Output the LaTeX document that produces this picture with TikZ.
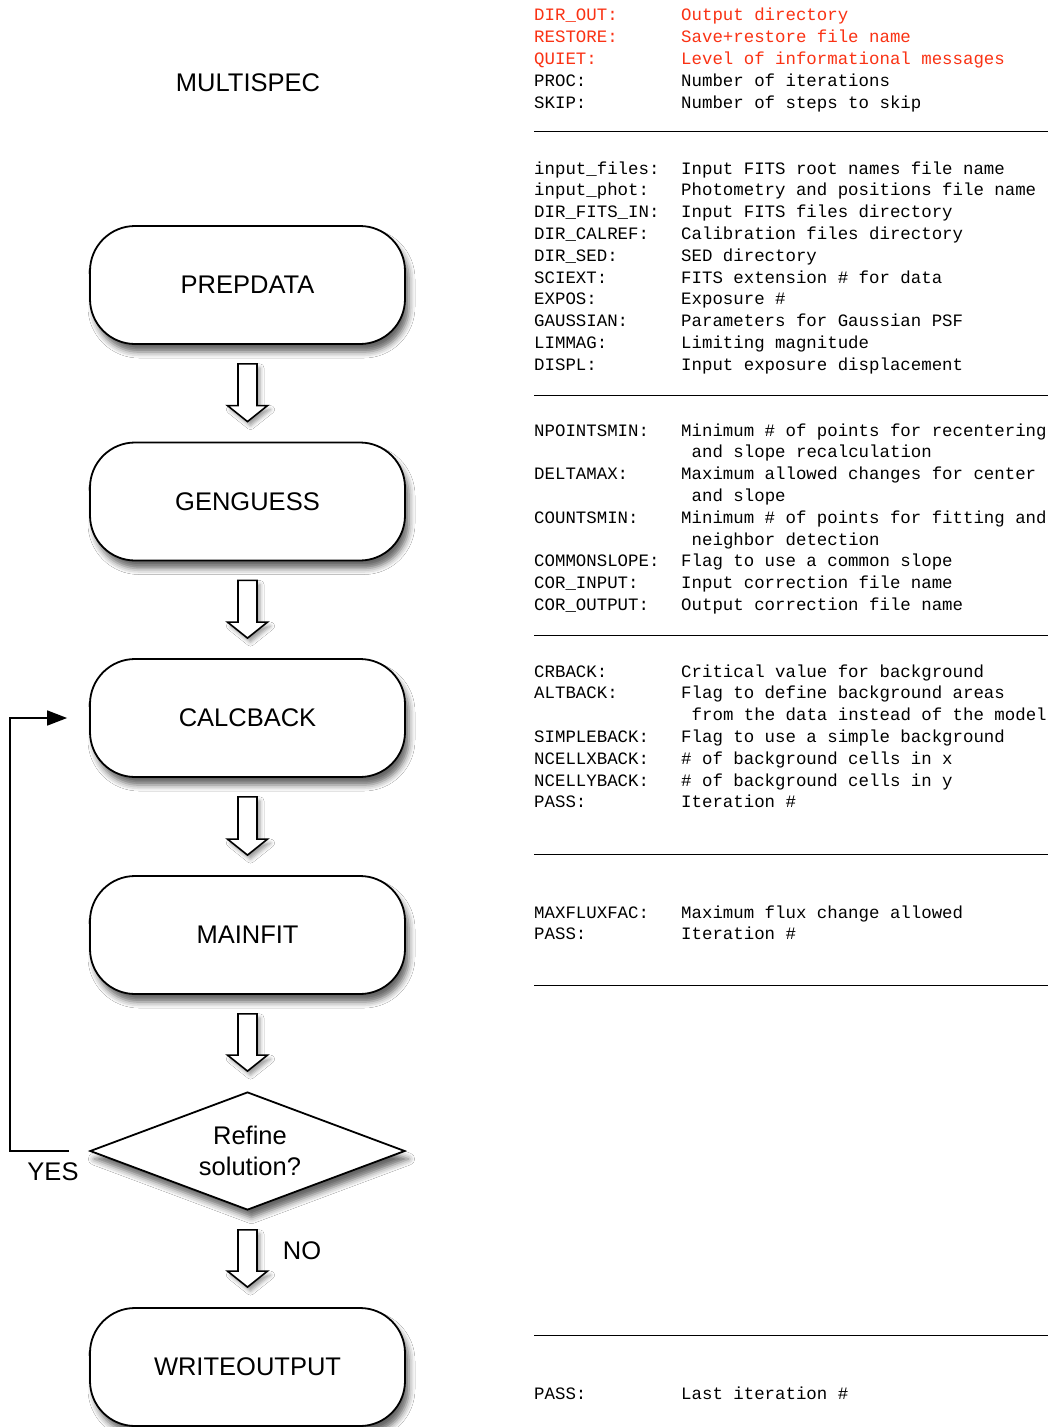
\documentclass[tikz,border=0pt]{standalone}
\usepackage{fontspec}
\setmainfont{Liberation Sans}
\setmonofont{Liberation Mono}
\usetikzlibrary{shapes.geometric,arrows.meta,calc,shadows.blur}
\definecolor{parred}{RGB}{250,50,20}
\newcount\rowcount
\newcommand{\prow}[4]{%
  \node[lab,text=#4] (l\the\rowcount) at (534,#1) {#2};
  \node[lab,text=#4] (d\the\rowcount) at (681,#1) {#3};
  \global\advance\rowcount by 1\relax}
\newcommand{\pcont}[2]{%
  \node[lab] (c\the\rowcount) at (691.5,#1) {#2};
  \global\advance\rowcount by 1\relax}
\newcommand{\blockarrow}[2]{%
  \path[barrow] let \p1=(#1.south), \p2=(#2.north) in
    (\x1-9.5pt,\y1-19pt) -- (\x1+9.5pt,\y1-19pt) -- (\x1+9.5pt,\y2+36pt)
    -- (\x1+20pt,\y2+36pt) -- (\x1,\y2+20pt) -- (\x1-20pt,\y2+36pt)
    -- (\x1-9.5pt,\y2+36pt) -- cycle;}
\begin{document}
\begin{tikzpicture}[x=1pt,y=-1pt,
  procbox/.style={draw=black,line width=1.8pt,fill=white,rounded corners=45,
    minimum width=315,minimum height=118,inner sep=0pt,
    font=\fontsize{25.5}{31}\selectfont,
    blur shadow={shadow xshift=4pt,shadow yshift=-8pt,shadow blur radius=6pt,shadow opacity=60}},
  decbox/.style={draw=black,line width=1.8pt,fill=white,diamond,aspect=2.67,
    minimum width=315,minimum height=118,inner sep=0pt,align=center,
    font=\fontsize{25.5}{31}\selectfont,
    blur shadow={shadow xshift=4pt,shadow yshift=-8pt,shadow blur radius=6pt,shadow opacity=60}},
  barrow/.style={draw=black,line width=1.6pt,fill=white,line join=miter,
    blur shadow={shadow xshift=3pt,shadow yshift=-4pt,shadow blur radius=4pt,shadow opacity=40}},
  sanslab/.style={font=\fontsize{25.5}{31}\selectfont,inner sep=0pt},
  lab/.style={anchor=base west,inner sep=0pt,font=\ttfamily\fontsize{17.4}{21.8}\selectfont},
  sepline/.style={draw=black,line width=1pt},
  loopline/.style={draw=black,line width=1.6pt}]
\useasboundingbox[fill=white] (0,0) rectangle (1050,1427);

% title
\node[sanslab] (title) at (248,83) {MULTISPEC};

% process boxes
\node[procbox] (prep) at (247.5,285) {PREPDATA};
\node[procbox] (gen) at (247.5,501.5) {GENGUESS};
\node[procbox] (calc) at (247.5,718) {CALCBACK};
\node[procbox] (mainfit) at (247.5,935) {MAINFIT};
\node[decbox] (dec) at (247.5,1151) {\hspace*{5pt}Refine\\\hspace*{5pt}solution?};
\node[procbox] (write) at (247.5,1367) {WRITEOUTPUT};

% block arrows
\blockarrow{prep}{gen}
\blockarrow{gen}{calc}
\blockarrow{calc}{mainfit}
\blockarrow{mainfit}{dec}
\blockarrow{dec}{write}

% feedback loop
\coordinate (yesstart) at ($(dec.west)+(-20,0)$);
\coordinate (backend) at ($(calc.west)+(-22,0)$);
\draw[loopline,-{Triangle[length=20pt,width=15pt]}] (yesstart) -- ++(-59,0) |- (backend);

\node[sanslab] (yes) at (53,1172) {YES};
\node[sanslab] (no) at (302,1251) {NO};

% parameter listing
\prow{20}{DIR\_OUT:}{Output directory}{parred}
\prow{42}{RESTORE:}{Save+restore file name}{parred}
\prow{64}{QUIET:}{Level of informational messages}{parred}
\prow{86}{PROC:}{Number of iterations}{black}
\prow{108}{SKIP:}{Number of steps to skip}{black}
\draw[sepline] (534,131.5) -- (1048,131.5);

\prow{174}{input\_files:}{Input FITS root names file name}{black}
\prow{195.8}{input\_phot:}{Photometry and positions file name}{black}
\prow{217.6}{DIR\_FITS\_IN:}{Input FITS files directory}{black}
\prow{239.4}{DIR\_CALREF:}{Calibration files directory}{black}
\prow{261.2}{DIR\_SED:}{SED directory}{black}
\prow{283}{SCIEXT:}{FITS extension \# for data}{black}
\prow{304.8}{EXPOS:}{Exposure \#}{black}
\prow{326.6}{GAUSSIAN:}{Parameters for Gaussian PSF}{black}
\prow{348.4}{LIMMAG:}{Limiting magnitude}{black}
\prow{370.2}{DISPL:}{Input exposure displacement}{black}
\draw[sepline] (534,395) -- (1048,395);

\prow{436}{NPOINTSMIN:}{Minimum \# of points for recentering}{black}
\pcont{457.8}{and slope recalculation}
\prow{479.6}{DELTAMAX:}{Maximum allowed changes for center}{black}
\pcont{501.4}{and slope}
\prow{523.2}{COUNTSMIN:}{Minimum \# of points for fitting and}{black}
\pcont{545}{neighbor detection}
\prow{566.8}{COMMONSLOPE:}{Flag to use a common slope}{black}
\prow{588.6}{COR\_INPUT:}{Input correction file name}{black}
\prow{610.4}{COR\_OUTPUT:}{Output correction file name}{black}
\draw[sepline] (534,635) -- (1048,635);

\prow{677}{CRBACK:}{Critical value for background}{black}
\prow{698.8}{ALTBACK:}{Flag to define background areas}{black}
\pcont{720.6}{from the data instead of the model}
\prow{742.4}{SIMPLEBACK:}{Flag to use a simple background}{black}
\prow{764.2}{NCELLXBACK:}{\# of background cells in x}{black}
\prow{786}{NCELLYBACK:}{\# of background cells in y}{black}
\prow{807.8}{PASS:}{Iteration \#}{black}
\draw[sepline] (534,854) -- (1048,854);

\prow{918}{MAXFLUXFAC:}{Maximum flux change allowed}{black}
\prow{939.8}{PASS:}{Iteration \#}{black}
\draw[sepline] (534,985) -- (1048,985);

\draw[sepline] (534,1335) -- (1048,1335);
\prow{1399}{PASS:}{Last iteration \#}{black}
\end{tikzpicture}
\end{document}
